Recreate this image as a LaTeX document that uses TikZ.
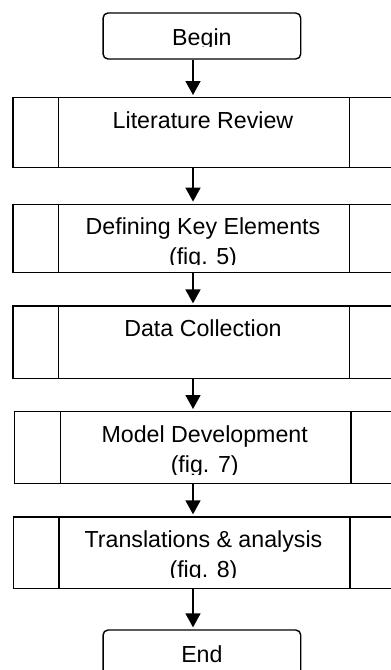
\documentclass[tikz,border=0pt]{standalone}
\usepackage{fontspec}
\setmainfont{Liberation Sans}
\usetikzlibrary{arrows.meta}

\tikzset{
  procbox/.style={draw, line width=1.4pt, minimum width=382pt, inner sep=0pt},
  terminal/.style={draw, line width=1.4pt, rounded corners=5pt,
    minimum width=197.7pt, minimum height=46pt, inner sep=0pt},
  sidebar/.style={line width=1.3pt},
  flow/.style={-{Triangle[length=14pt,width=15pt]}, line width=1.8pt, shorten >=2pt},
  lbl/.style={font=\fontsize{23.2}{30}\selectfont, anchor=base, inner sep=0pt}
}

% process box with side bars; #1 name, #2 centre, #3 height
\newcommand\procstep[3]{%
  \node[procbox, minimum height=#3] (#1) at #2 {};
  \draw[sidebar] ([xshift=46.3pt]#1.north west) -- ([xshift=46.3pt]#1.south west);
  \draw[sidebar] ([xshift=-46.3pt]#1.north east) -- ([xshift=-46.3pt]#1.south east);
}

\begin{document}
\begin{tikzpicture}[x=1pt, y=-1pt]
\useasboundingbox (0,0) rectangle (391,670);
\clip (0,0) rectangle (391,670);

% terminals
\node[terminal] (begin) at (201.9,36) {};
\node[terminal] (end) at (201.9,653) {};

% process steps
\procstep{lit}{(204,132.5)}{69.6pt}
\procstep{def}{(204,238.4)}{68.2pt}
\procstep{data}{(204,342.2)}{72.3pt}
\procstep{model}{(205.7,447.5)}{71.6pt}
\procstep{trans}{(204.5,552.8)}{71.6pt}

% labels, cut off at the lower text margin of each box
\begin{scope}
  \clip (begin.north west) rectangle ([yshift=-34pt]begin.north east);
  \node[lbl] (beginT) at ([yshift=-32.7pt]begin.north) {Begin};
\end{scope}
\node[lbl] (litT) at ([xshift=-1pt,yshift=-31.8pt]lit.north) {Literature Review};
\begin{scope}
  \clip (def.north west) rectangle ([yshift=-61pt]def.north east);
  \node[lbl] (defT1) at ([xshift=-1pt,yshift=-30.5pt]def.north) {Defining Key Elements};
  \node[lbl] (defT2) at ([xshift=-1pt,yshift=-60.5pt]def.north) {(fig. 5)};
\end{scope}
\node[lbl] (dataT) at ([xshift=-1pt,yshift=-31.3pt]data.north) {Data Collection};
\begin{scope}
  \clip (model.north west) rectangle ([yshift=-63pt]model.north east);
  \node[lbl] (modelT1) at ([xshift=-1pt,yshift=-31pt]model.north) {Model Development};
  \node[lbl] (modelT2) at ([xshift=-1pt,yshift=-61pt]model.north) {(fig. 7)};
\end{scope}
\begin{scope}
  \clip (trans.north west) rectangle ([yshift=-61.5pt]trans.north east);
  \node[lbl] (transT1) at ([xshift=-1pt,yshift=-31.3pt]trans.north) {Translations \& analysis};
  \node[lbl] (transT2) at ([xshift=-1pt,yshift=-61pt]trans.north) {(fig. 8)};
\end{scope}
\node[lbl] (endT) at ([yshift=-33.3pt]end.north) {End};

% connectors
\coordinate (ax) at (193,0);
\draw[flow] (begin.south -| ax) -- (lit.north -| ax);
\draw[flow] (lit.south -| ax) -- (def.north -| ax);
\draw[flow] (def.south -| ax) -- (data.north -| ax);
\draw[flow] (data.south -| ax) -- (model.north -| ax);
\draw[flow] (model.south -| ax) -- (trans.north -| ax);
\draw[flow] (trans.south -| ax) -- (end.north -| ax);
\end{tikzpicture}
\end{document}
